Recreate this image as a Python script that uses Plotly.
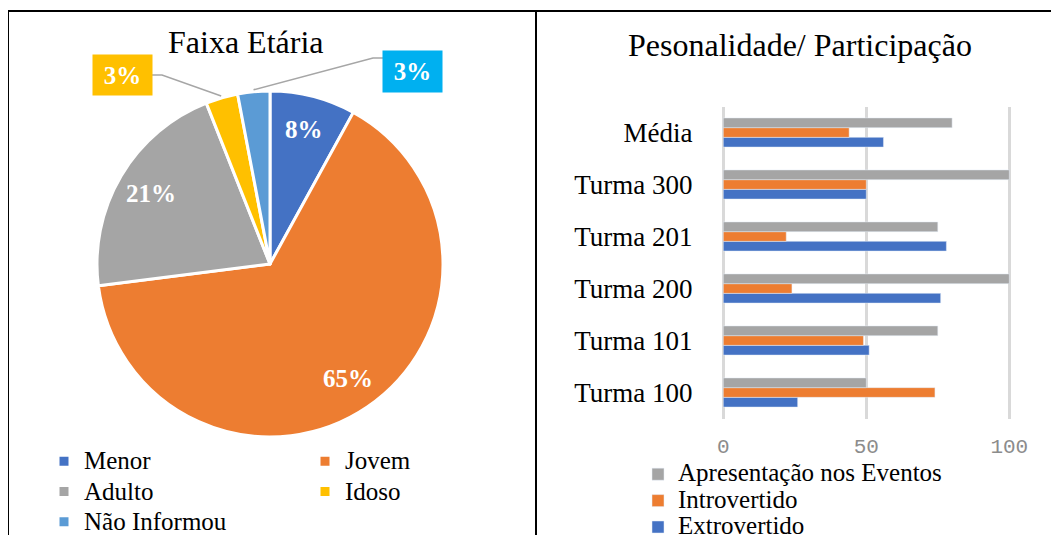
import math
import plotly.graph_objects as go

# ---------------- data ----------------
age_labels = ["Menor", "Jovem", "Adulto", "Idoso", "Não Informou"]
age_values = [8, 65, 21, 3, 3]
age_colors = ["#4472C4", "#ED7D31", "#A5A5A5", "#FFC000", "#5B9BD5"]

groups = ["Turma 100", "Turma 101", "Turma 200", "Turma 201", "Turma 300", "Média"]
extrovertido = [26, 51, 76, 78, 50, 56]
introvertido = [74, 49, 24, 22, 50, 44]
apresentacao = [50, 75, 100, 75, 100, 80]
x_ticks = [0, 50, 100]

# ---------------- layout helpers (window pixel -> paper) ----------------
OFF = 8               # default page body margin
W, H = 1059 - OFF, 535 - OFF
ML = 80
PW = W - ML


def px(x):
    return (x - OFF - ML) / PW


def py(y):
    return 1 - (y - OFF) / H


def big(label, size=25):
    return f'<span style="font-size:{size}px">{label}</span>'


FONT = "Liberation Serif"

fig = go.Figure()

# pie geometry (window pixels)
CX, CY, R = 270, 264, 173
fig.add_trace(go.Pie(
    labels=[big(l) for l in age_labels], values=age_values, sort=False,
    direction="clockwise", rotation=0, textinfo="none",
    hovertext=age_labels, hoverinfo="text+percent",
    marker=dict(colors=age_colors, line=dict(color="white", width=3)),
    domain=dict(x=[px(CX - R), px(CX + R)], y=[py(CY + R), py(CY - R)]),
    legend="legend2",
))

# bars (first trace drawn lowest in the group)
fig.add_trace(go.Bar(y=groups, x=extrovertido, name=big("Extrovertido"),
                     orientation="h", marker_color="#4472C4"))
fig.add_trace(go.Bar(y=groups, x=introvertido, name=big("Introvertido"),
                     orientation="h", marker_color="#ED7D31"))
fig.add_trace(go.Bar(y=groups, x=apresentacao, name=big("Apresentação nos Eventos"),
                     orientation="h", marker_color="#A5A5A5"))

# ---------------- pie labels computed from values ----------------
annotations = []
shapes = []
total = sum(age_values)
cum = 0
mids = []
for v in age_values:
    mids.append((cum + v / 2) / total * 2 * math.pi)
    cum += v

for i in range(3):
    th = mids[i]
    r = 0.8 * R
    x = CX + r * math.sin(th)
    y = CY - r * math.cos(th)
    annotations.append(dict(
        x=px(x), y=py(y), xref="paper", yref="paper", showarrow=False,
        xanchor="center", yanchor="middle",
        text=f"<b>{age_values[i]}%</b>",
        font=dict(family=FONT, size=25, color="white"),
    ))

# outside labels with boxes + leader lines
boxes = [
    (3, (94, 56, 151, 94), "#FFC000", 151, 162, 75),   # Idoso
    (4, (384, 52, 441, 91), "#00B0F0", 384, 373, 58),  # Não Informou
]
for idx, (bx0, by0, bx1, by1), col, attach_x, elbow_x, ly in boxes:
    annotations.append(dict(
        x=px((bx0 + bx1) / 2), y=py((by0 + by1) / 2), xref="paper", yref="paper",
        xanchor="center", yanchor="middle",
        showarrow=False, text=f"<b>{age_values[idx]}%</b>",
        font=dict(family=FONT, size=25, color="white"),
        bgcolor=col, width=bx1 - bx0, height=by1 - by0,
    ))
    th = mids[idx]
    ex = CX + (R + 2) * math.sin(th)
    ey = CY - (R + 2) * math.cos(th)
    shapes.append(dict(
        type="path", xref="paper", yref="paper",
        path=f"M{px(attach_x)},{py(ly)} L{px(elbow_x)},{py(ly)} L{px(ex)},{py(ey)}",
        line=dict(color="#A6A6A6", width=1.5),
    ))

# titles
annotations.append(dict(x=px(245), y=py(42), xref="paper", yref="paper", showarrow=False,
                        xanchor="center", yanchor="middle",
                        text="Faixa Etária", font=dict(family=FONT, size=32, color="black")))
annotations.append(dict(x=px(800), y=py(45), xref="paper", yref="paper", showarrow=False,
                        xanchor="center", yanchor="middle",
                        text="Pesonalidade/ Participação",
                        font=dict(family=FONT, size=32, color="black")))

# panel borders
for x0, y0, x1, y1 in [(8, 11, 1059, 11), (8, 11, 8, 540), (536, 11, 536, 540)]:
    shapes.append(dict(type="line", xref="paper", yref="paper",
                       x0=px(x0), y0=py(y0), x1=px(x1), y1=py(y1),
                       line=dict(color="black", width=2)))

X0, X100 = 723.3, 1009.3
unit = (X100 - X0) / 100
pad = 0.6

fig.update_layout(
    width=W, height=H,
    margin=dict(l=ML, r=0, t=0, b=0, autoexpand=False),
    paper_bgcolor="white", plot_bgcolor="white",
    barmode="group", bargap=0.44, bargroupgap=0,
    font=dict(family=FONT, color="black"),
    xaxis=dict(domain=[px(X0 - pad * unit), px(X100 + pad * unit)],
               range=[-pad, 100 + pad], tickvals=x_ticks,
               showgrid=True, gridcolor="#D9D9D9", gridwidth=3, zeroline=False,
               showline=False, ticks="", ticklabelstandoff=12,
               tickfont=dict(family="Liberation Mono", size=21, color="#8C8C8C"),
               fixedrange=True),
    yaxis=dict(domain=[py(418.5), py(106.5)], type="category",
               categoryorder="array", categoryarray=groups,
               showgrid=False, zeroline=False, showline=False, ticks="",
               ticklabelstandoff=28,
               tickfont=dict(family=FONT, size=27, color="black"), fixedrange=True),
    legend=dict(x=px(638), y=py(456), xanchor="left", yanchor="top",
                orientation="v", traceorder="reversed",
                font=dict(family=FONT, size=18, color="black"),
                bgcolor="rgba(0,0,0,0)", itemwidth=30),
    legend2=dict(x=px(44), y=py(441), xanchor="left", yanchor="top",
                 orientation="h", entrywidth=216, entrywidthmode="pixels",
                 font=dict(family=FONT, size=21, color="black"),
                 bgcolor="rgba(0,0,0,0)", itemwidth=30),
    annotations=annotations,
    shapes=shapes,
    showlegend=True,
)

fig.write_html("out.html")
